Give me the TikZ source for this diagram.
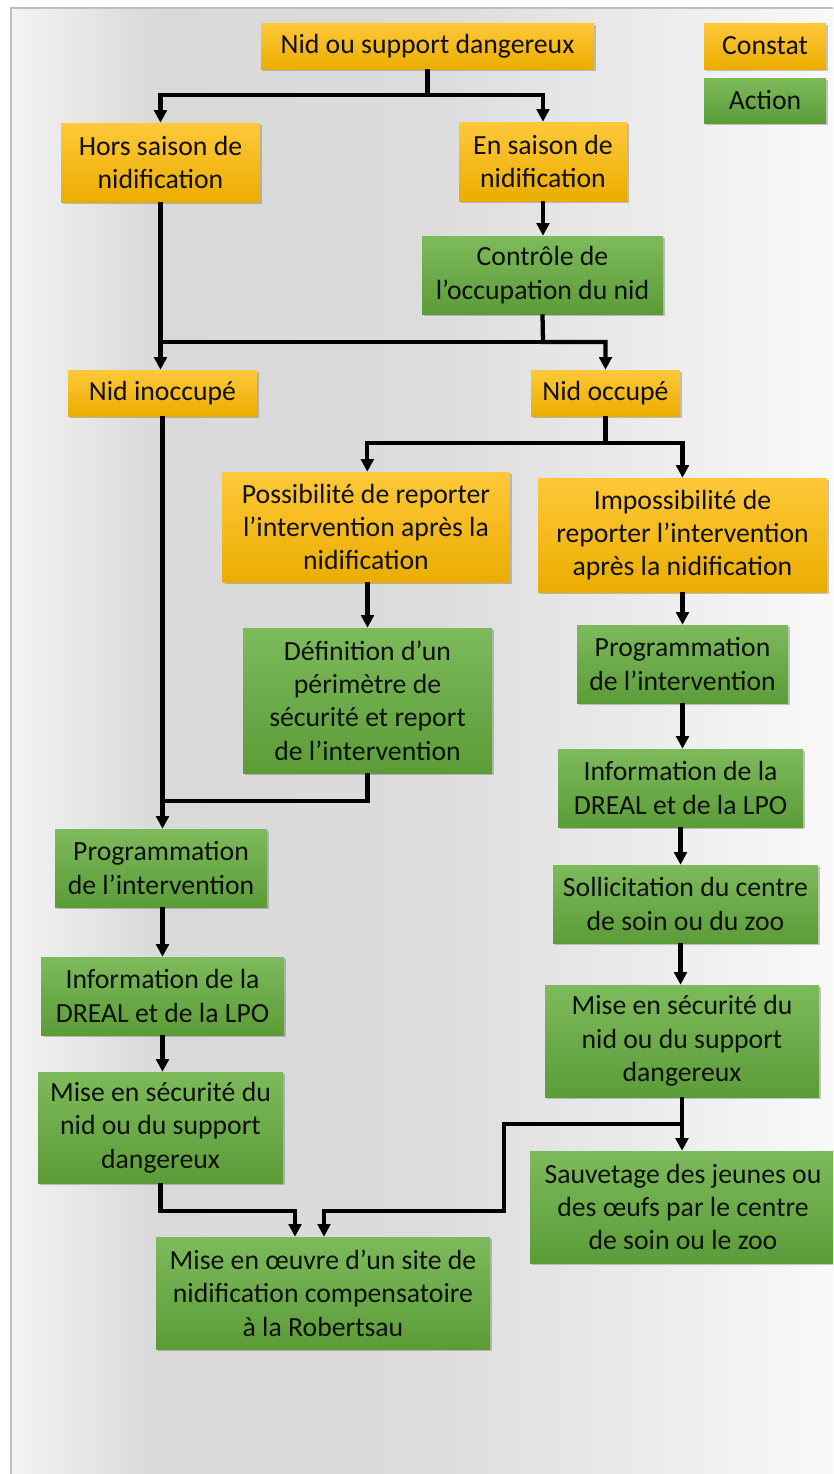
\documentclass[tikz,border=0pt]{standalone}
\usepackage{fontspec}
\setmainfont{Carlito}
\usetikzlibrary{arrows.meta,shadows}
\definecolor{orT}{HTML}{FFC83A}
\definecolor{orB}{HTML}{EBAD00}
\definecolor{grT}{HTML}{7DBA5B}
\definecolor{grB}{HTML}{5C9C38}
\definecolor{bgA}{HTML}{F3F3F3}
\definecolor{bgB}{HTML}{D9D9D9}
\definecolor{bgC}{HTML}{DCDCDC}
\definecolor{bgD}{HTML}{FAFAFA}
\definecolor{txt}{HTML}{101010}
\begin{document}
\begin{tikzpicture}[x=0.75pt,y=-0.75pt,
  wh/.style 2 args={minimum width=#1*0.75pt, minimum height=#2*0.75pt},
  basebox/.style={rectangle, inner sep=0pt, align=center, text=txt,
    font=\fontsize{20.8}{25}\selectfont,
    drop shadow={shadow xshift=1.5pt, shadow yshift=-1.5pt, opacity=0.3, fill=black!70}},
  constat/.style={basebox, top color=orT, bottom color=orB},
  action/.style={basebox, top color=grT, bottom color=grB},
  plain/.style={line width=3.2pt, draw=black},
  conn/.style={plain, -{Triangle[width=9.5pt,length=9.5pt]}}]
\useasboundingbox (0,0) rectangle (833,1474);
\clip (0,0) rectangle (833,1474);
% background
\fill[white] (0,0) rectangle (833,1474);
\shade[left color=bgA, right color=bgB] (11,8) rectangle (160,1490);
\shade[left color=bgB, right color=bgC] (159.5,8) rectangle (430,1490);
\shade[left color=bgC, right color=bgD] (429.5,8) rectangle (845,1490);
\draw[line width=1.2pt, draw=black!25] (11,1490) -- (11,8) -- (845,8);

% nodes
\node[constat, wh={333}{46}] (top) at (427.5,46) {Nid ou support dangereux};
\node[constat, wh={122}{46}] (kc) at (765,46) {Constat};
\node[action, wh={122}{45}] (ka) at (765,100.5) {Action};
\node[constat, wh={199}{79}] (hors) at (160.5,162.5) {Hors saison de\\nidification};
\node[constat, wh={168}{79}] (en) at (543,161.5) {En saison de\\nidification};
\node[action, wh={241}{78}] (ctrl) at (542.5,275) {Contrôle de\\l’occupation du nid};
\node[constat, wh={189}{46}] (inocc) at (162.5,393) {Nid inoccupé};
\node[constat, wh={149}{46}] (occ) at (605.5,393) {Nid occupé};
\node[constat, wh={287}{110}] (poss) at (366,527) {Possibilité de reporter\\l’intervention après la\\nidification};
\node[constat, wh={289}{114}] (imposs) at (682.5,535) {Impossibilité de\\reporter l’intervention\\après la nidification};
\node[action, wh={249}{145}] (defin) at (367.5,700.5) {Définition d’un\\périmètre de\\sécurité et report\\de l’intervention};
\node[action, wh={211}{78}] (progR) at (682.5,664) {Programmation\\de l’intervention};
\node[action, wh={245}{78}] (infoR) at (680.5,788) {Information de la\\DREAL et de la LPO};
\node[action, wh={265}{78}] (soll) at (685.5,904) {Sollicitation du centre\\de soin ou du zoo};
\node[action, wh={274}{112}] (miseR) at (682,1041) {Mise en sécurité du\\nid ou du support\\dangereux};
\node[action, wh={306}{112}] (sauv) at (683,1207) {Sauvetage des jeunes ou\\des œufs par le centre\\de soin ou le zoo};
\node[action, wh={212}{78}] (progL) at (161,868) {Programmation\\de l’intervention};
\node[action, wh={243}{78}] (infoL) at (162.5,996) {Information de la\\DREAL et de la LPO};
\node[action, wh={245}{111}] (miseL) at (160.5,1127.5) {Mise en sécurité du\\nid ou du support\\dangereux};
\node[action, wh={334}{112}] (oeuvre) at (323,1293) {Mise en œuvre d’un site de\\nidification compensatoire\\à la Robertsau};

% junction coordinates
\coordinate (j1) at (427.5,95);
\coordinate (j2) at (543,342);
\coordinate (j3) at (605.5,443);
\coordinate (j5) at (162.5,801);
\coordinate (j6) at (682,1124);
\coordinate (j7) at (504,1211);
\coordinate (j8) at (295,1211);

% connectors
\draw[conn] (top.south) -- (j1) -| (hors.north);
\draw[conn] (j1) -| (en.north);
\draw[conn] (en.south) -- (en.south |- ctrl.north);
\draw[conn] (hors.south) -- (hors.south |- inocc.north);
\draw[conn] (ctrl.south) -- (j2) -| (occ.north);
\draw[plain] (j2) -- (hors.south |- j2);
\draw[conn] (occ.south) -- (j3) -| ([xshift=1pt]poss.north);
\draw[conn] (j3) -| (imposs.north);
\draw[conn] (poss.south -| defin.north) -- (defin.north);
\draw[conn] (inocc.south) -- (inocc.south |- progL.north);
\draw[plain] (defin.south) |- (j5);
\draw[conn] (imposs.south) -- (imposs.south |- progR.north);
\draw[conn] (progR.south) -- (progR.south |- infoR.north);
\draw[conn] (infoR.south) -- (infoR.south |- soll.north);
\draw[conn] (soll.south -| infoR.south) -- (infoR.south |- miseR.north);
\draw[conn] (miseR.south) -- (miseR.south |- sauv.north);
\draw[conn] (j6) -| (j7) -| ([xshift=0.75pt]oeuvre.north);
\draw[conn] (progL.south -| inocc.south) -- (inocc.south |- infoL.north);
\draw[conn] (infoL.south -| inocc.south) -- (inocc.south |- miseL.north);
\draw[conn] (miseL.south) |- (j8) -- ([xshift=-21pt]oeuvre.north);
\end{tikzpicture}
\end{document}
